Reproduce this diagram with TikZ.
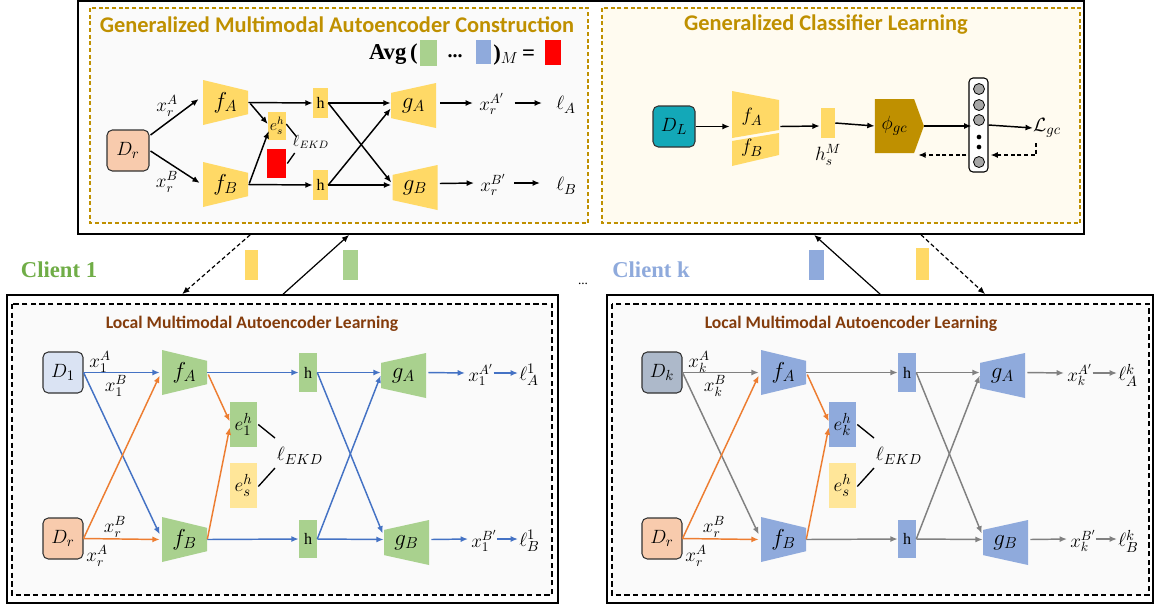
\documentclass[tikz,border=0pt]{standalone}
\usepackage{fontspec}
\setmainfont{Liberation Serif}
\newfontfamily\cali{Carlito}
\usetikzlibrary{arrows.meta,calc,shapes.symbols}
\definecolor{gold}{HTML}{FFD966}
\definecolor{lgold}{HTML}{FFE699}
\definecolor{dgold}{HTML}{BF9000}
\definecolor{grn}{HTML}{A9D18E}
\definecolor{blu}{HTML}{8FAADC}
\definecolor{dblu}{HTML}{4472C4}
\definecolor{org}{HTML}{ED7D31}
\definecolor{gry}{HTML}{808080}
\definecolor{peach}{HTML}{F8CBAD}
\definecolor{lblu}{HTML}{DAE3F3}
\definecolor{slate}{HTML}{ADB9CA}
\definecolor{tealD}{HTML}{13A8B8}
\definecolor{brn}{HTML}{843C0C}
\definecolor{cgrn}{HTML}{70AD47}
\definecolor{panelg}{HTML}{FAFAFA}
\definecolor{cream}{HTML}{FFFBF0}
\definecolor{redbox}{HTML}{FF0000}
\tikzset{
  enc/.style={minimum width=33.75pt, minimum height=33.75pt, inner sep=0pt, font=\fontsize{17}{19}\selectfont,
    path picture={\fill[#1] (path picture bounding box.north west)
      -- ($(path picture bounding box.north east)!.24!(path picture bounding box.south east)$)
      -- ($(path picture bounding box.south east)!.24!(path picture bounding box.north east)$)
      -- (path picture bounding box.south west) -- cycle;}},
  dec/.style={minimum width=33.75pt, minimum height=33.75pt, inner sep=0pt, font=\fontsize{17}{19}\selectfont,
    path picture={\fill[#1] (path picture bounding box.north east)
      -- ($(path picture bounding box.north west)!.22!(path picture bounding box.south west)$)
      -- ($(path picture bounding box.south west)!.22!(path picture bounding box.north west)$)
      -- (path picture bounding box.south east) -- cycle;}},
  rbox/.style={fill=#1, inner sep=0pt},
  dbox/.style={fill=#1, draw=black!80, rounded corners=4pt, line width=0.8pt, inner sep=0pt,
    minimum width=30pt, minimum height=30.75pt, font=\fontsize{15}{17}\selectfont},
  lab/.style={inner sep=0pt, font=\fontsize{14}{16}\selectfont},
  hlab/.style={font=\rmfamily\fontsize{12}{13}\selectfont},
  arr/.style={draw=#1, line width=1.1pt, -{Latex[length=5.5pt,width=4.5pt]}},
  ln/.style={draw=black, line width=1pt},
  dsh/.style={dash pattern=on 3pt off 2pt},
  ldsh/.style={dash pattern=on 4pt off 2.5pt},
}
% client panel body: #1 prefix, #2 xshift, #3 node colour, #4 arrow colour, #5 D fill, #6 index
\newcommand\clientbody[6]{%
\begin{scope}[xshift=#2]
  \node[text=brn, font=\cali\bfseries\fontsize{13.2}{15}\selectfont] (#1title) at (252,324) {Local Multimodal Autoencoder Learning};
  \node[dbox=#5] (#1D) at (63,372.5) {$D_{#6}$};
  \node[dbox=peach] (#1Dr) at (63,538.5) {$D_r$};
  \node[enc=#3] (#1fA) at (184.5,372.5) {$f_A$};
  \node[enc=#3] (#1fB) at (184.5,539.5) {$f_B$};
  \node[rbox=#3, minimum width=20.25pt, minimum height=33.75pt, font=\fontsize{15}{17}\selectfont] (#1e) at (243.5,424.5) {$e_{#6}^h$};
  \node[rbox=lgold, minimum width=20.25pt, minimum height=33.75pt, font=\fontsize{15}{17}\selectfont] (#1es) at (243.5,485.5) {$e_s^h$};
  \node[rbox=#3, minimum width=13.5pt, minimum height=29pt, hlab] (#1hT) at (308,372.5) {h};
  \node[rbox=#3, minimum width=13.5pt, minimum height=29pt, hlab] (#1hB) at (308,539) {h};
  \node[dec=#3] (#1gA) at (403.5,375.5) {$g_A$};
  \node[dec=#3] (#1gB) at (406.5,542.5) {$g_B$};
  \node[lab, font=\fontsize{15}{17}\selectfont] (#1ek) at (300,456) {$\ell_{EKD}$};
  \node[lab] (#1xA) at (100,362) {$x_{#6}^A$};
  \node[lab] (#1xB) at (116,386) {$x_{#6}^B$};
  \node[lab] (#1xrB) at (115,527) {$x_r^B$};
  \node[lab] (#1xrA) at (97,556) {$x_r^A$};
  \node[lab, anchor=west] (#1xAp) at (468,375) {$x_{#6}^{A'}$};
  \node[lab, anchor=west, font=\fontsize{15}{17}\selectfont] (#1lA) at (519,375) {$\ell_A^{#6}$};
  \node[lab, anchor=west] (#1xBp) at (471,541) {$x_{#6}^{B'}$};
  \node[lab, anchor=west, font=\fontsize{15}{17}\selectfont] (#1lB) at (519,541) {$\ell_B^{#6}$};
  \draw[arr=#4] (#1D.east) -- ($(#1fA.west)+(-2,0)$);
  \draw[arr=#4] (#1D.east) -- ($(#1fB.west)+(-2,-5)$);
  \draw[arr=org] (#1Dr.east) -- ($(#1fA.west)+(-2,3)$);
  \draw[arr=org] (#1Dr.east) -- ($(#1fB.west)+(-2,0)$);
  \draw[arr=#4] (#1fA.east) -- (#1hT.west);
  \draw[arr=org] ($(#1fA.east)+(1,2)$) -- ($(#1e.west)+(0,-3)$);
  \draw[arr=org] (#1fB.east) -- ($(#1e.west)+(0,3)$);
  \draw[arr=#4] (#1fB.east) -- (#1hB.west);
  \draw[arr=#4] (#1hT.east) -- ($(#1gA.west)+(0,-3)$);
  \draw[arr=#4] (#1hT.east) -- ($(#1gB.west)+(-1,-9)$);
  \draw[arr=#4] (#1hB.east) -- (#1gA.west);
  \draw[arr=#4] (#1hB.east) -- ($(#1gB.west)+(0,-3)$);
  \draw[arr=#4] ($(#1gA.east)+(2,-3)$) -- ($(#1xAp.west)+(-3,-2)$);
  \draw[arr=#4] ($(#1xAp.east)+(0,-2)$) -- ($(#1lA.west)+(-1,-2)$);
  \draw[arr=#4] ($(#1gB.east)+(2,-3)$) -- ($(#1xBp.west)+(-3,-2)$);
  \draw[arr=#4] ($(#1xBp.east)+(0,-2)$) -- ($(#1lB.west)+(-1,-2)$);
  \draw[ln] ($(#1e.east)+(1,0)$) -- ($(#1ek.center)+(-25,-18)$);
  \draw[ln] ($(#1es.east)+(1,1)$) -- ($(#1ek.center)+(-25,12)$);
\end{scope}}
\begin{document}
\begin{tikzpicture}[x=0.75pt,y=-0.75pt]
\useasboundingbox (0,0) rectangle (1156,608);
% ---------- server box ----------
\node[draw, line width=1.3pt, fill=white, minimum width=754.5pt, minimum height=174.75pt, inner sep=0] (server) at (581,117.5) {};
\draw[dgold, dsh, line width=0.9pt, fill=panelg] (90,8) rectangle (588,223);
\draw[dgold, dsh, line width=0.9pt, fill=cream] (602,8) rectangle (1080,223);
\node[text=dgold, font=\cali\bfseries\fontsize{16.8}{18}\selectfont] (t1) at (337,25) {Generalized Multimodal Autoencoder Construction};
\node[text=dgold, font=\cali\bfseries\fontsize{16.8}{18}\selectfont] (t2) at (826,25) {Generalized Classifier Learning};
% Avg row
\node[anchor=east, inner sep=0, font=\bfseries\fontsize{17}{18}\selectfont] (avg) at (418,54) {Avg\,(};
\node[rbox=grn, minimum width=12.75pt, minimum height=19.5pt] (ag) at (428.5,53) {};
\node[inner sep=0, font=\bfseries\fontsize{15}{16}\selectfont] (adots) at (455,56) {...};
\node[rbox=blu, minimum width=11.25pt, minimum height=18pt] (ab) at (483.5,52) {};
\node[anchor=west, inner sep=0, font=\fontsize{17}{18}\selectfont] (aeq) at (493,55) {\textbf{)}$_M$\textbf{\,=}};
\node[rbox=redbox, minimum width=12pt, minimum height=18.75pt] (ar) at (553,52) {};
% left sub-panel
\node[dbox=peach, minimum width=31.5pt] (tDr) at (128,150.5) {$D_r$};
\node[enc=gold] (tfA) at (225.5,102.5) {$f_A$};
\node[enc=gold] (tfB) at (225.5,184.5) {$f_B$};
\node[rbox=gold, minimum width=11.25pt, minimum height=22.5pt, hlab] (thT) at (320.5,103) {h};
\node[rbox=gold, minimum width=11.25pt, minimum height=22.5pt, hlab] (thB) at (320.5,185) {h};
\node[rbox=gold, minimum width=13.5pt, minimum height=21pt, font=\fontsize{12}{13}\selectfont] (tes) at (277,126) {$e_s^h$};
\node[rbox=redbox, minimum width=14.25pt, minimum height=21.75pt] (tred) at (276.5,163.5) {};
\node[dec=gold] (tgA) at (413.5,105.5) {$g_A$};
\node[dec=gold] (tgB) at (415,187.5) {$g_B$};
\node[lab] (txA) at (167,106) {$x_r^A$};
\node[lab] (txB) at (167,182) {$x_r^B$};
\node[lab, font=\fontsize{12}{13}\selectfont] (tek) at (311,142) {$\ell_{EKD}$};
\node[lab, anchor=west] (txAp) at (479,104) {$x_r^{A'}$};
\node[lab, anchor=west, font=\fontsize{15}{17}\selectfont] (tlA) at (556,105) {$\ell_A$};
\node[lab, anchor=west] (txBp) at (480,185) {$x_r^{B'}$};
\node[lab, anchor=west, font=\fontsize{15}{17}\selectfont] (tlB) at (556,186) {$\ell_B$};
\draw[arr=black] ($(tDr.east)+(1,-15.5)$) -- ($(tfA.west)+(-4,-3.5)$);
\draw[arr=black] ($(tDr.east)+(1,0.5)$) -- ($(tfB.west)+(-3,-1.5)$);
\draw[arr=black] (tfA.east) -- (thT.west);
\draw[arr=black] ($(tfA.east)+(2,1)$) -- ($(tes.west)+(0,-2)$);
\draw[arr=black] ($(tfB.east)+(1,-1)$) -- ($(tes.west)+(1,5)$);
\draw[arr=black] (tfB.east) -- (thB.west);
\draw[arr=black] (thT.east) -- ($(tgA.west)+(0,-2.5)$);
\draw[arr=black] (thT.east) -- ($(tgB.west)+(-1,-5)$);
\draw[arr=black] (thB.east) -- ($(tgA.west)+(0,3)$);
\draw[arr=black] (thB.east) -- ($(tgB.west)+(-1,-2.5)$);
\draw[arr=black] ($(tgA.east)+(4,-2.5)$) -- ($(txAp.west)+(-6,-1)$);
\draw[arr=black] ($(txAp.east)+(10,-1)$) -- ($(tlA.west)+(-14,-2)$);
\draw[arr=black] ($(tgB.east)+(2,-4)$) -- ($(txBp.west)+(-6,-2)$);
\draw[arr=black] ($(txBp.east)+(8,-2)$) -- ($(tlB.west)+(-16,-3)$);
\draw[ln] ($(tes.east)+(0,-2)$) -- ($(tek.north west)+(4,2)$);
\draw[ln] ($(tred.east)+(1,0)$) -- ($(tek.south west)+(2,4)$);
% right sub-panel
\node[dbox=tealD, minimum width=31.5pt] (DL) at (674,126.5) {$D_L$};
\node[minimum width=35.25pt, minimum height=56.25pt, inner sep=0] (fAB) at (755.5,128.5) {};
\fill[gold] (732,91) -- (779,100) -- (779,130) -- (732,138) -- cycle;
\fill[gold] (732,141) -- (779,133) -- (779,155) -- (732,166) -- cycle;
\node[inner sep=0, font=\fontsize{15}{17}\selectfont] (fAl) at (752,117) {$f_A$};
\node[inner sep=0, font=\fontsize{15}{17}\selectfont] (fBl) at (752,148) {$f_B$};
\node[rbox=gold, minimum width=10.5pt, minimum height=22.5pt] (hsM) at (828,123) {};
\node[lab] (hsMl) at (828,155) {$h_s^M$};
\node[signal, signal to=east, signal pointer angle=140, fill=dgold, minimum width=36.75pt, minimum height=40.5pt, inner sep=0, font=\fontsize{15}{17}\selectfont] (phi) at (894.5,126) {$\phi_{gc}$};
\node[draw, fill=white, rounded corners=3pt, line width=0.8pt, minimum width=14.25pt, minimum height=70.5pt, inner sep=0] (col) at (978.5,125) {};
\foreach \n/\yy in {n1/89,n2/105,n3/120,n4/162}
  \node[circle, draw, fill=black!35, minimum size=8.25pt, inner sep=0, line width=0.6pt] (\n) at (979,\yy) {};
\foreach \n/\yy in {d1/137,d2/147}
  \node[circle, fill=black, minimum size=3.5pt, inner sep=0] (\n) at (979,\yy) {};
\node[lab, font=\fontsize{15}{17}\selectfont] (Lgc) at (1047,128) {$\mathcal{L}_{gc}$};
\draw[arr=black] (DL.east) -- ($(fAB.west)+(-2,-2)$);
\draw[arr=black] ($(fAB.east)+(1,-2)$) -- ($(hsM.west)+(-1,3)$);
\draw[arr=black] (hsM.east) -- (phi.west);
\draw[arr=black] (phi.east) -- ($(col.west)+(3,1)$);
\draw[arr=black] (col.east) -- (Lgc.west);
\draw[arr=black, dsh] ($(Lgc.center)+(-11,15)$) |- ($(col.east)+(2,30)$);
\draw[arr=black, dsh] ($(col.west)+(-2,30)$) -- ($(phi.east)+(-6,29)$);
% ---------- clients ----------
\node[draw, line width=1.3pt, minimum width=413.25pt, minimum height=231pt, inner sep=0] (c1box) at (282.5,449) {};
\draw[ldsh, line width=1pt, fill=panelg] (12,304) rectangle (552,595);
\node[draw, line width=1.3pt, minimum width=409.5pt, minimum height=231pt, inner sep=0] (ckbox) at (880,449) {};
\draw[ldsh, line width=1pt, fill=panelg] (612,304) rectangle (1149,595);
\clientbody{a}{0pt}{grn}{dblu}{lblu}{1}
\clientbody{b}{449.25pt}{blu}{gry}{slate}{k}
\node[text=cgrn, font=\bfseries\fontsize{17}{18}\selectfont] (cl1) at (59,270) {Client 1};
\node[text=blu, font=\bfseries\fontsize{17}{18}\selectfont] (clk) at (651,270) {Client k};
\node[inner sep=0, font=\fontsize{10}{12}\selectfont] (mdots) at (583,284) {...};
% exchanged parameters
\node[rbox=gold, minimum width=9.75pt, minimum height=22.5pt] (y1) at (251.5,265) {};
\node[rbox=grn, minimum width=11.25pt, minimum height=22.5pt] (g1) at (350.5,265) {};
\node[rbox=blu, minimum width=11.25pt, minimum height=22.5pt] (b1) at (816.5,265) {};
\node[rbox=gold, minimum width=9.75pt, minimum height=24pt] (y2) at (922.5,264) {};
\draw[arr=black, line width=0.9pt, dsh] ($(server.south west)+(173,0)$) -- ($(c1box.north west)+(176,0)$);
\draw[arr=black, line width=0.9pt] ($(c1box.north west)+(277,0)$) -- ($(server.south west)+(272,0)$);
\draw[arr=black, line width=0.9pt] ($(ckbox.north west)+(274,0)$) -- ($(server.south west)+(737,0)$);
\draw[arr=black, line width=0.9pt, dsh] ($(server.south west)+(844,0)$) -- ($(ckbox.north west)+(379,0)$);
\end{tikzpicture}
\end{document}
